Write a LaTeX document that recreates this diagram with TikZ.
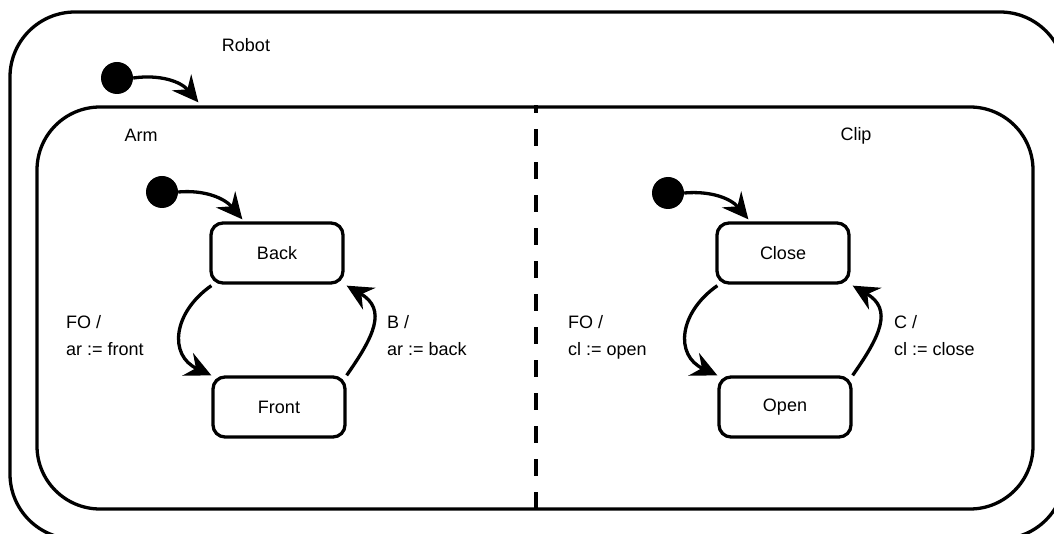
\documentclass[tikz,border=0pt]{standalone}
\usepackage{fontspec}
\setmainfont{Liberation Sans}
\usetikzlibrary{arrows.meta}
\begin{document}
\begin{tikzpicture}[x=1pt,y=1pt,
  every node/.style={font=\fontsize{18}{22}\selectfont, inner sep=0pt},
  statebox/.style={draw, line width=3.3pt, rounded corners=12pt, minimum width=132pt, minimum height=60pt},
  init/.style={circle, fill=black, minimum size=32pt},
  trans/.style={line width=3.3pt, -{Stealth[length=26pt,width=25pt,inset=9pt]}},
  lbl/.style={anchor=base west}]
\useasboundingbox (0,0) rectangle (1054,-534);
\clip (0,0) rectangle (1054,-534);
% containers
\node[draw, line width=3.3pt, rounded corners=65pt, minimum width=1055pt, minimum height=527pt] (robot) at (537.5,-275.5) {};
\node[draw, line width=3.3pt, rounded corners=63pt, minimum width=996pt, minimum height=402pt] (arm) at (535,-308) {};
\draw[line width=3.3pt, dash pattern=on 17pt off 16pt, dash phase=9pt] ([xshift=1pt]arm.north) -- ([xshift=1pt]arm.south);
% titles
\node (trobot) at (246,-45) {Robot};
\node (tarm) at (141,-135) {Arm};
\node (tclip) at (856,-136) {Clip};
% initial pseudo states
\node[init] (i0) at (117,-78) {};
\node[init] (i1) at (162,-192) {};
\node[init] (i2) at (668,-193) {};
% states
\node[statebox] (back) at (277,-253) {Back};
\node[statebox] (front) at (279,-407) {Front};
\node[statebox] (close) at (783,-253) {Close};
\node[statebox] (open) at (785,-407) {Open};
% initial transitions
\draw[trans] (i0.east) to[out=8, in=130] ([xshift=163pt, yshift=3pt]arm.north west);
\draw[trans] (i1.east) to[out=5, in=130] ([xshift=33pt, yshift=2pt]back.north west);
\draw[trans] (i2.east) to[out=5, in=130] ([xshift=33pt, yshift=2pt]close.north west);
% transitions
\draw[trans] ([xshift=2pt, yshift=-1pt]back.south west) to[out=-145, in=155, looseness=1.35] (front.north west);
\draw[trans] (front.north east) to[out=55, in=-30, looseness=1.35] ([xshift=2pt, yshift=-1pt]back.south east);
\draw[trans] ([xshift=2pt, yshift=-1pt]close.south west) to[out=-145, in=155, looseness=1.35] (open.north west);
\draw[trans] (open.north east) to[out=55, in=-30, looseness=1.35] ([xshift=2pt, yshift=-1pt]close.south east);
% labels
\node[lbl] (l1a) at (66,-328) {FO /};
\node[lbl] (l1b) at (66,-355) {ar := front};
\node[lbl] (l2a) at (387,-328) {B /};
\node[lbl] (l2b) at (387,-355) {ar := back};
\node[lbl] (l3a) at (568,-328) {FO /};
\node[lbl] (l3b) at (568,-355) {cl := open};
\node[lbl] (l4a) at (894,-328) {C /};
\node[lbl] (l4b) at (894,-355) {cl := close};
\end{tikzpicture}
\end{document}
